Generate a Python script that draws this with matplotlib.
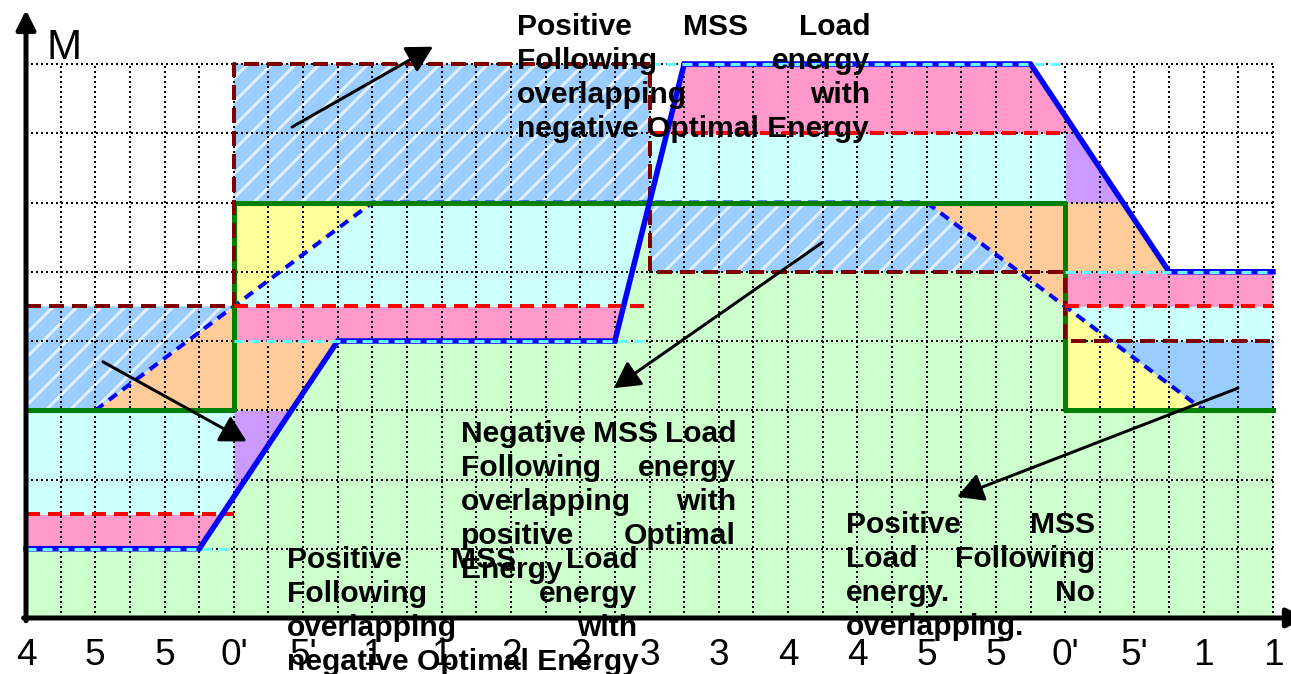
import numpy as np
import matplotlib
matplotlib.use("Agg")
import matplotlib.pyplot as plt

plt.rcParams['font.family'] = ['Liberation Sans', 'DejaVu Sans']
plt.rcParams['hatch.linewidth'] = 3
plt.rcParams['hatch.color'] = '#E2F1FF'
plt.rcParams['lines.scale_dashes'] = False

# time blocks (grid columns) and the levels held in each block
edges = [0, 6, 18, 30, 36]
optimal = [1, 4, 8, 5]          # optimal energy steps (cyan dashed)
red_lim = [1.5, 4.5, 7, 4.5]    # red dashed limit
green_lv = [3, 6, 6, 3]         # green solid level
maroon_lim = [4.5, 8, 5, 4]     # dark red dashed limit

# MSS load following (solid blue)
mss_x = [0, 5, 9, 17, 19, 29, 33, 36]
mss_y = [1, 1, 4, 4, 8, 8, 5, 5]

# ramp (blue dashed)
ramp_x = [2, 10, 26, 34]
ramp_y = [3, 6, 6, 3]

tick_labels = ["4", "5", "5", "0'", "5'", "1", "1", "2", "2", "3", "3",
               "4", "4", "5", "5", "0'", "5'", "1", "1"]

GREEN = '#CCFFCC'
PINK = '#FF99CC'
CYAN = '#CCFFFF'
ORANGE = '#FFCC99'
YELLOW = '#FFFF99'
PURPLE = '#CC99FF'
LBLUE = '#99CCFF'
STRIPE = '#E2F1FF'

W, H = 1291, 674
fig = plt.figure(figsize=(W / 72, H / 72), dpi=72)
ax = fig.add_axes([26 / W, 56 / H, 1247 / W, 554 / H])
ax.set_xlim(0, 36)
ax.set_ylim(0, 8)
for s in ax.spines.values():
    s.set_visible(False)


def mss(x):
    return np.interp(x, mss_x, mss_y)


def ramp(x):
    return np.interp(x, ramp_x, ramp_y)


def band(k, lo, hi, color, hatch=None):
    xs = np.linspace(edges[k], edges[k + 1], 800)
    lo = np.broadcast_to(np.asarray(lo(xs) if callable(lo) else lo, float), xs.shape)
    hi = np.broadcast_to(np.asarray(hi(xs) if callable(hi) else hi, float), xs.shape)
    if hatch:
        ax.fill_between(xs, lo, hi, where=hi > lo, interpolate=True,
                        facecolor=color, edgecolor=STRIPE, hatch=hatch,
                        linewidth=0, zorder=1)
    else:
        ax.fill_between(xs, lo, hi, where=hi > lo, interpolate=True,
                        color=color, linewidth=0, zorder=1)


# base: everything under the MSS curve
X = np.linspace(0, 36, 3601)
ax.fill_between(X, 0, mss(X), color=GREEN, linewidth=0, zorder=1)

# block 0
band(0, lambda x: np.maximum(mss(x), optimal[0]), red_lim[0], PINK)
band(0, lambda x: np.maximum(mss(x), red_lim[0]), green_lv[0], CYAN)
band(0, green_lv[0], ramp, ORANGE)
band(0, lambda x: np.maximum(ramp(x), green_lv[0]), maroon_lim[0], LBLUE, '/')

# block 1
band(1, mss, green_lv[0], PURPLE)
band(1, lambda x: np.maximum(mss(x), green_lv[0]), optimal[1], ORANGE)
band(1, lambda x: np.maximum(mss(x), optimal[1]), red_lim[1], PINK)
band(1, lambda x: np.maximum(mss(x), red_lim[1]),
     lambda x: np.minimum(ramp(x), green_lv[1]), CYAN)
band(1, lambda x: np.maximum(ramp(x), red_lim[1]), green_lv[1], YELLOW)
band(1, green_lv[1], maroon_lim[1], LBLUE, '/')

# block 2
band(2, maroon_lim[2], lambda x: np.minimum(ramp(x), green_lv[2]), LBLUE, '/')
band(2, ramp, green_lv[2], ORANGE)
band(2, green_lv[2], red_lim[2], CYAN)
band(2, red_lim[2], lambda x: np.minimum(mss(x), optimal[2]), PINK)

# block 3
band(3, green_lv[2], lambda x: np.minimum(mss(x), red_lim[2]), PURPLE)
band(3, red_lim[2], mss, PINK)
band(3, optimal[3], lambda x: np.minimum(mss(x), green_lv[2]), ORANGE)
band(3, red_lim[3], optimal[3], PINK)
band(3, lambda x: np.maximum(ramp(x), maroon_lim[3]), red_lim[3], CYAN)
band(3, green_lv[3], ramp, YELLOW)
band(3, lambda x: np.maximum(ramp(x), green_lv[3]), maroon_lim[3], LBLUE)

# dotted grid
dots = (0, (2, 3))
for i in range(1, 37):
    ax.plot([i, i], [0, 8], color='black', lw=2, ls=dots, zorder=2, clip_on=False)
for j in range(1, 9):
    ax.plot([0, 36], [j, j], color='black', lw=2, ls=dots, zorder=2, clip_on=False)


def step_xy(vals):
    xs, ys = [], []
    for k, v in enumerate(vals):
        xs += [edges[k], edges[k + 1]]
        ys += [v, v]
    return xs, ys


ax.plot(ramp_x, ramp_y, color='#0000FF', lw=4, ls=(0, (10, 7)), zorder=3, clip_on=False)
ax.plot(*step_xy(green_lv), color='#008000', lw=5, zorder=4, clip_on=False)
ax.plot(*step_xy(maroon_lim), color='#800000', lw=4, ls=(0, (15, 8)), zorder=5, clip_on=False)
for k, v in enumerate(red_lim):
    ax.plot([edges[k], edges[k + 1]], [v, v], color='#FF0000', lw=4,
            ls=(0, (14, 8)), zorder=5, clip_on=False)
ax.plot(mss_x, mss_y, color='#0000FF', lw=5.5, zorder=6, clip_on=False,
        solid_joinstyle='miter')
for k, v in enumerate(optimal):
    ax.plot([edges[k], edges[k + 1]], [v, v], color='#66FFFF', lw=3,
            ls=(0, (10, 6)), zorder=7, clip_on=False)

# axes with arrow heads
ax.annotate('', xy=(0, 8.78), xytext=(0, -0.04), annotation_clip=False,
            arrowprops=dict(arrowstyle='-|>', color='black', lw=5,
                            mutation_scale=40, shrinkA=0, shrinkB=0), zorder=9)
ax.annotate('', xy=(36.95, 0), xytext=(-0.07, 0), annotation_clip=False,
            arrowprops=dict(arrowstyle='-|>', color='black', lw=5,
                            mutation_scale=40, shrinkA=0, shrinkB=0), zorder=9)
fig.text(46 / W, 1 - 59 / H, 'M', fontsize=42, ha='left', va='baseline')

ax.set_xticks(np.arange(0, 37, 2))
ax.set_xticklabels(tick_labels, fontsize=37)
ax.tick_params(axis='x', length=0, pad=20)
ax.set_yticks([])

# pointer arrows
pointers = [((7.68, 7.09), (11.75, 8.25)),
            ((2.22, 3.70), (6.37, 2.55)),
            ((22.98, 5.42), (16.97, 3.32)),
            ((34.99, 3.32), (26.88, 1.75))]
for start, tip in pointers:
    ax.annotate('', xy=tip, xytext=start, annotation_clip=False,
                arrowprops=dict(arrowstyle='-|>,head_length=0.4,head_width=0.22',
                                color='black', lw=3, mutation_scale=55,
                                shrinkA=0, shrinkB=0), zorder=9)

# justified labels
notes = [
    (14.17, 24.37, 8.42, ["Positive MSS Load", "Following energy",
                          "overlapping with", "negative Optimal Energy"]),
    (12.56, 20.50, 2.54, ["Negative MSS Load", "Following energy",
                          "overlapping with", "positive Optimal", "Energy"]),
    (7.53, 17.64, 0.72, ["Positive MSS Load", "Following energy",
                         "overlapping with", "negative Optimal Energy"]),
    (23.67, 30.86, 1.23, ["Positive MSS", "Load Following",
                          "energy. No", "overlapping."]),
]
renderer = fig.canvas.get_renderer()
px_per_x = ax.bbox.width / 36
step = 0.49
for x0, x1, y0, lines in notes:
    for i, line in enumerate(lines):
        y = y0 - i * step
        words = line.split()
        kw = dict(fontsize=30, fontweight='bold', va='baseline', ha='left',
                  zorder=10, clip_on=False)
        if i == len(lines) - 1 or len(words) == 1:
            ax.text(x0, y, line, **kw)
            continue
        ts = [ax.text(x0, y, w, **kw) for w in words]
        widths = [t.get_window_extent(renderer=renderer).width / px_per_x for t in ts]
        gap = (x1 - x0 - sum(widths)) / (len(words) - 1)
        x = x0
        for t, w in zip(ts, widths):
            t.set_x(x)
            x += w + gap

fig.savefig('out.png', dpi=72)
